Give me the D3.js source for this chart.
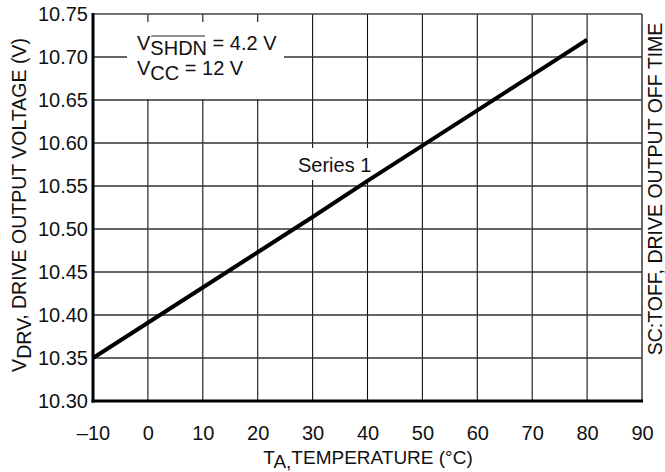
<!DOCTYPE html>
<html><head><meta charset="utf-8">
<script src="https://cdn.jsdelivr.net/npm/d3@7"></script>
<style>body{margin:0;background:#fff}svg{display:block}text{font-family:"Liberation Sans",Arial,sans-serif;fill:#111}</style>
</head><body>
<script>
const temps = [-10, 0, 10, 20, 30, 40, 50, 60, 70, 80];
const vdrv = [10.350, 10.391, 10.432, 10.473, 10.514, 10.556, 10.597, 10.638, 10.679, 10.720];
const xTicks = [-10, 0, 10, 20, 30, 40, 50, 60, 70, 80, 90];
const yTicks = [10.30, 10.35, 10.40, 10.45, 10.50, 10.55, 10.60, 10.65, 10.70, 10.75];
const seriesName = "Series 1";

const W = 665, H = 472;
const m = {l: 93, r: 642, t: 14, b: 401};
const FS = 20;
const svg = d3.select("body").append("svg").attr("width", W).attr("height", H);
const x = d3.scaleLinear().domain([-10, 90]).range([m.l, m.r]);
const y = d3.scaleLinear().domain([10.30, 10.75]).range([m.b, m.t]);

// gridlines
const g = svg.append("g");
g.selectAll("line.v").data(xTicks.slice(1, -1)).join("line")
  .attr("x1", d => x(d)).attr("x2", d => x(d)).attr("y1", m.t).attr("y2", m.b)
  .attr("stroke", "#111").attr("stroke-width", 1.1);
g.selectAll("line.h").data(yTicks.slice(1, -1)).join("line")
  .attr("x1", m.l).attr("x2", m.r).attr("y1", d => y(d)).attr("y2", d => y(d))
  .attr("stroke", "#333").attr("stroke-width", 1.4);

// white label boxes
svg.append("rect").attr("x", 127).attr("y", 22).attr("width", 157).attr("height", y(10.65) - 22 - 1).attr("fill", "#fff");
svg.append("rect").attr("x", 295).attr("y", 148).attr("width", 86).attr("height", 32).attr("fill", "#fff");

// frame
svg.append("line").attr("x1", m.l).attr("x2", m.r).attr("y1", m.t).attr("y2", m.t).attr("stroke", "#444").attr("stroke-width", 1.6);
svg.append("line").attr("x1", m.r).attr("x2", m.r).attr("y1", m.t).attr("y2", m.b).attr("stroke", "#444").attr("stroke-width", 1.6);
svg.append("line").attr("x1", m.l).attr("x2", m.l).attr("y1", m.t - 1).attr("y2", m.b + 1.5).attr("stroke", "#000").attr("stroke-width", 3);
svg.append("line").attr("x1", m.l - 1.5).attr("x2", m.r + 1).attr("y1", m.b).attr("y2", m.b).attr("stroke", "#000").attr("stroke-width", 3);

// axes labels via d3 axes (no domain / tick lines)
const xAxis = svg.append("g").attr("transform", `translate(0,${m.b})`)
  .call(d3.axisBottom(x).tickValues(xTicks).tickSize(0).tickPadding(25).tickFormat(d => d < 0 ? "\u2013" + Math.abs(d) : d));
const yAxis = svg.append("g").attr("transform", `translate(${m.l},0)`)
  .call(d3.axisLeft(y).tickValues(yTicks).tickSize(0).tickPadding(5).tickFormat(d3.format(".2f")));
[xAxis, yAxis].forEach(a => { a.select(".domain").remove(); a.selectAll("text").attr("font-size", FS).attr("fill", "#111").attr("font-family", "Liberation Sans, Arial, sans-serif"); });

// data line
svg.append("path").datum(temps.map((t, i) => [t, vdrv[i]]))
  .attr("d", d3.line().x(d => x(d[0])).y(d => y(d[1])))
  .attr("fill", "none").attr("stroke", "#000").attr("stroke-width", 4);

// series label
svg.append("text").attr("x", 298).attr("y", 172).attr("font-size", FS).text(seriesName);

// annotation
const a1 = svg.append("text").attr("x", 137).attr("y", 50).attr("font-size", FS);
a1.append("tspan").text("V");
a1.append("tspan").attr("dy", 5).text("SHDN");
a1.append("tspan").attr("dy", -5).text(" = 4.2 V");
const a2 = svg.append("text").attr("x", 137).attr("y", 75).attr("font-size", FS);
a2.append("tspan").text("V");
a2.append("tspan").attr("dy", 5).text("CC");
a2.append("tspan").attr("dy", -5).text(" = 12 V");
// overline above SHDN
const sub = a1.node().getSubStringLength(0, 1);
const shLen = a1.node().getSubStringLength(1, 4);
svg.append("line").attr("x1", 137 + sub + 1).attr("x2", 137 + sub + shLen - 2).attr("y1", 36).attr("y2", 36).attr("stroke", "#222").attr("stroke-width", 1.2);

// x title
const xt = svg.append("text").attr("x", 368).attr("y", 464).attr("text-anchor", "middle").attr("font-size", 19);
xt.append("tspan").text("T");
xt.append("tspan").attr("dy", 4).text("A,");
xt.append("tspan").attr("dy", -4).text("TEMPERATURE (\u00B0C)");

// y title
const yt = svg.append("text").attr("transform", "translate(26,205) rotate(-90)").attr("text-anchor", "middle").attr("font-size", 19.5);
yt.append("tspan").text("V");
yt.append("tspan").attr("dy", 5).text("DRV");
yt.append("tspan").attr("dy", -5).text(", DRIVE OUTPUT VOLTAGE (V)");

// right title
svg.append("text").attr("transform", "translate(662,189) rotate(-90)").attr("text-anchor", "middle").attr("font-size", 19.5)
  .text("SC:TOFF, DRIVE OUTPUT OFF TIME");
</script>
</body></html>
